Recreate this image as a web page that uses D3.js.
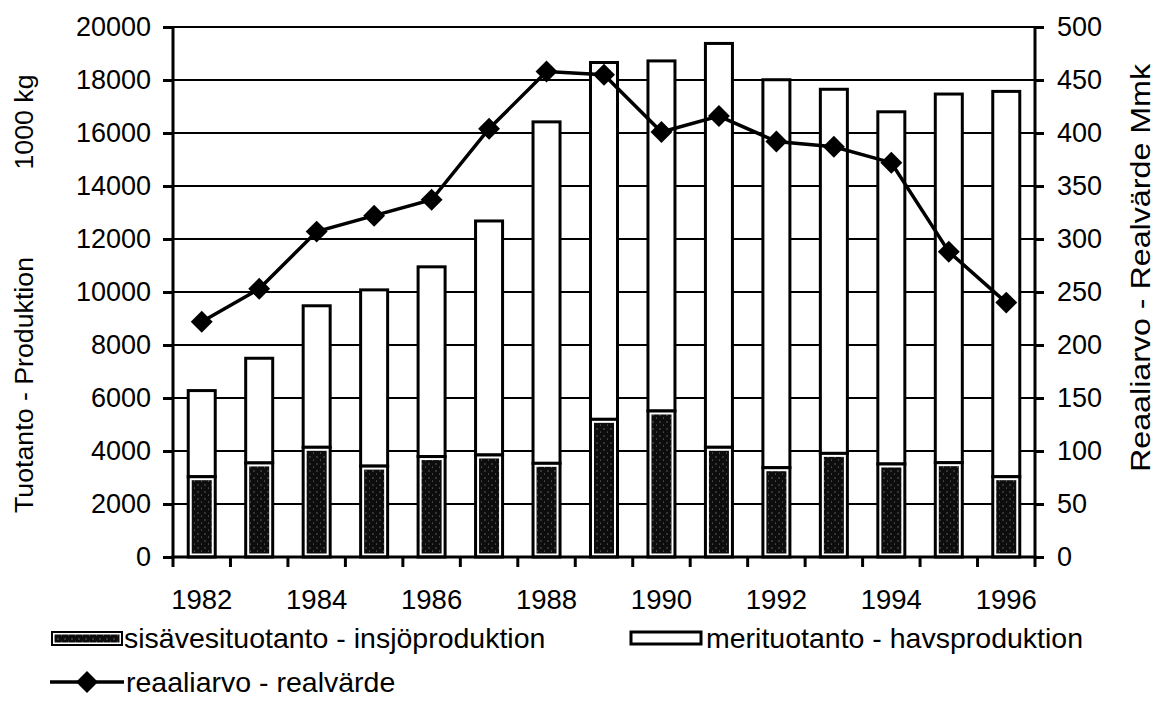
<!DOCTYPE html>
<html>
<head>
<meta charset="utf-8">
<script src="https://cdn.jsdelivr.net/npm/d3@7"></script>
<style>
body { margin: 0; background: #fff; }
text { font-family: Arial, "Liberation Sans", sans-serif; fill: #000; }
</style>
</head>
<body>
<div id="chart"></div>
<script>
// data
var years = [1982, 1983, 1984, 1985, 1986, 1987, 1988, 1989, 1990, 1991, 1992, 1993, 1994, 1995, 1996];
var inland = [3030, 3550, 4140, 3430, 3790, 3850, 3535, 5195, 5510, 4140, 3370, 3910, 3510, 3560, 3030];
var sea = [3250, 3950, 5340, 6650, 7160, 8830, 12885, 13465, 13210, 15240, 14640, 13740, 13290, 13910, 14540];
var realValue = [222, 253, 307, 322, 337, 404, 458, 455, 401, 416, 392, 387, 372, 288, 240];
var leftTicks = [0, 2000, 4000, 6000, 8000, 10000, 12000, 14000, 16000, 18000, 20000];
var rightTicks = [0, 50, 100, 150, 200, 250, 300, 350, 400, 450, 500];
var yearLabels = [1982, 1984, 1986, 1988, 1990, 1992, 1994, 1996];

var W = 1155, H = 704;
var plot = { left: 173, right: 1035, top: 27, bottom: 557 };

var svg = d3.select("#chart").append("svg")
    .attr("width", W)
    .attr("height", H);

// stipple fill for the inland part
var defs = svg.append("defs");
var pat = defs.append("pattern")
    .attr("id", "stipple")
    .attr("patternUnits", "userSpaceOnUse")
    .attr("width", 7).attr("height", 7);
pat.append("rect").attr("width", 7).attr("height", 7).attr("fill", "#0d0d0d");
pat.append("circle").attr("cx", 2).attr("cy", 2).attr("r", 0.7).attr("fill", "#777");
pat.append("circle").attr("cx", 5.5).attr("cy", 5).attr("r", 0.5).attr("fill", "#999");

var x = d3.scaleBand().domain(years).range([plot.left, plot.right]).padding(0);
var y = d3.scaleLinear().domain([0, 20000]).range([plot.bottom, plot.top]);
var y2 = d3.scaleLinear().domain([0, 500]).range([plot.bottom, plot.top]);

// gridlines
svg.append("g").selectAll("line")
    .data(leftTicks.slice(1))
    .enter().append("line")
    .attr("x1", plot.left).attr("x2", plot.right)
    .attr("y1", function(d) { return y(d); })
    .attr("y2", function(d) { return y(d); })
    .attr("stroke", "#000")
    .attr("stroke-width", 2);

// stacked bars
var table = years.map(function(yr, i) { return { year: yr, inland: inland[i], sea: sea[i] }; });
var stack = d3.stack().keys(["inland", "sea"])(table);
var bw = x.bandwidth() * 0.47;

var sea_g = svg.append("g");
sea_g.selectAll("rect")
    .data(stack[1])
    .enter().append("rect")
    .attr("x", function(d) { return x(d.data.year) + (x.bandwidth() - bw) / 2; })
    .attr("width", bw)
    .attr("y", function(d) { return y(d[1]); })
    .attr("height", function(d) { return y(d[0]) - y(d[1]); })
    .attr("fill", "#fff")
    .attr("stroke", "#000")
    .attr("stroke-width", 3);

var inl = svg.append("g");
inl.selectAll("rect.o")
    .data(stack[0])
    .enter().append("rect")
    .attr("class", "o")
    .attr("x", function(d) { return x(d.data.year) + (x.bandwidth() - bw) / 2; })
    .attr("width", bw)
    .attr("y", function(d) { return y(d[1]); })
    .attr("height", function(d) { return y(d[0]) - y(d[1]); })
    .attr("fill", "#fff")
    .attr("stroke", "#000")
    .attr("stroke-width", 3);
inl.selectAll("rect.i")
    .data(stack[0])
    .enter().append("rect")
    .attr("class", "i")
    .attr("x", function(d) { return x(d.data.year) + (x.bandwidth() - bw) / 2 + 3.5; })
    .attr("width", bw - 7)
    .attr("y", function(d) { return y(d[1]) + 3.5; })
    .attr("height", function(d) { return y(d[0]) - y(d[1]) - 7; })
    .attr("fill", "url(#stipple)");

// line + diamonds
var cx = function(i) { return x(years[i]) + x.bandwidth() / 2; };
var line = d3.line()
    .x(function(d, i) { return cx(i); })
    .y(function(d) { return y2(d); });
svg.append("path")
    .datum(realValue)
    .attr("d", line)
    .attr("fill", "none")
    .attr("stroke", "#000")
    .attr("stroke-width", 3.5);

var diamond = d3.symbol().type(d3.symbolSquare).size(240);
svg.append("g").selectAll("path")
    .data(realValue)
    .enter().append("path")
    .attr("d", diamond)
    .attr("transform", function(d, i) { return "translate(" + cx(i) + "," + y2(d) + ") rotate(45)"; })
    .attr("fill", "#000");

// left axis
var axL = svg.append("g")
    .attr("transform", "translate(" + plot.left + ",0)")
    .call(d3.axisLeft(y).tickValues(leftTicks).tickSize(10).tickPadding(12).tickFormat(d3.format("d")));
// right axis
var axR = svg.append("g")
    .attr("transform", "translate(" + plot.right + ",0)")
    .call(d3.axisRight(y2).tickValues(rightTicks).tickSize(9).tickPadding(13));
// bottom axis: ticks at band edges, labels every other year
var edges = years.map(function(d) { return x(d); }).concat([plot.right]);
var axB = svg.append("g");
axB.append("line")
    .attr("x1", plot.left - 1.5).attr("x2", plot.right + 1.5)
    .attr("y1", plot.bottom).attr("y2", plot.bottom)
    .attr("stroke", "#000").attr("stroke-width", 3);
axB.selectAll("line.t")
    .data(edges)
    .enter().append("line")
    .attr("class", "t")
    .attr("x1", function(d) { return d; }).attr("x2", function(d) { return d; })
    .attr("y1", plot.bottom).attr("y2", plot.bottom + 10)
    .attr("stroke", "#000").attr("stroke-width", 3);
axB.selectAll("text")
    .data(yearLabels)
    .enter().append("text")
    .attr("x", function(d) { return x(d) + x.bandwidth() / 2; })
    .attr("y", 609)
    .attr("text-anchor", "middle")
    .style("font-size", "27.5px")
    .text(function(d) { return d; });

[axL, axR].forEach(function(a) {
    a.select(".domain").attr("stroke", "#000").attr("stroke-width", 3)
        .attr("d", "M0," + (plot.top - 1) + "V" + (plot.bottom + 1.5));
    a.selectAll(".tick line").attr("stroke", "#000").attr("stroke-width", 3);
    a.selectAll(".tick text").style("font-size", "27px").attr("fill", "#000");
});

// axis titles
svg.append("text")
    .attr("transform", "translate(33,385) rotate(-90)")
    .attr("text-anchor", "middle")
    .style("font-size", "26px")
    .attr("textLength", 256)
    .attr("lengthAdjust", "spacingAndGlyphs")
    .text("Tuotanto - Produktion");
svg.append("text")
    .attr("transform", "translate(33,122) rotate(-90)")
    .attr("text-anchor", "middle")
    .style("font-size", "26px")
    .attr("textLength", 95)
    .attr("lengthAdjust", "spacingAndGlyphs")
    .text("1000 kg");

svg.append("text")
    .attr("transform", "translate(1150,268) rotate(-90)")
    .attr("text-anchor", "middle")
    .style("font-size", "27px")
    .attr("textLength", 408)
    .attr("lengthAdjust", "spacingAndGlyphs")
    .text("Reaaliarvo - Realvärde Mmk");

// legend
var lg = svg.append("g");
lg.append("rect").attr("x", 52).attr("y", 632).attr("width", 70).attr("height", 13)
    .attr("fill", "#fff").attr("stroke", "#000").attr("stroke-width", 2);
lg.append("rect").attr("x", 54.5).attr("y", 634.5).attr("width", 65).attr("height", 8)
    .attr("fill", "url(#stipple)");
lg.append("text").attr("x", 124).attr("y", 648).style("font-size", "28.5px")
    .text("sisävesituotanto - insjöproduktion");

lg.append("rect").attr("x", 631).attr("y", 632).attr("width", 70).attr("height", 12)
    .attr("fill", "#fff").attr("stroke", "#000").attr("stroke-width", 3);
lg.append("text").attr("x", 706).attr("y", 648).style("font-size", "28.5px")
    .text("merituotanto - havsproduktion");

lg.append("line").attr("x1", 50).attr("x2", 124).attr("y1", 682).attr("y2", 682)
    .attr("stroke", "#000").attr("stroke-width", 3.5);
lg.append("path").attr("d", diamond)
    .attr("transform", "translate(87,682) rotate(45)").attr("fill", "#000");
lg.append("text").attr("x", 126).attr("y", 692).style("font-size", "28.5px")
    .text("reaaliarvo - realvärde");
</script>
</body>
</html>
